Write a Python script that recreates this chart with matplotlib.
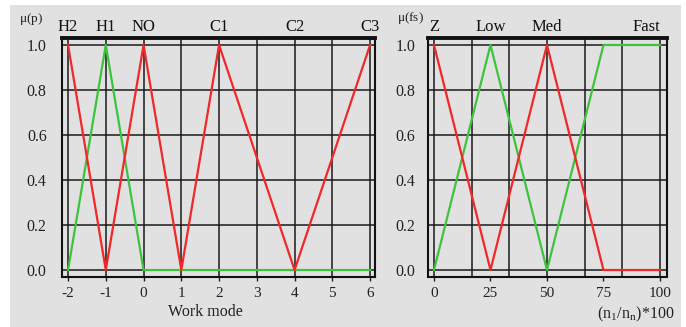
import numpy as np
from matplotlib import pyplot as plt
from matplotlib.patches import Rectangle

plt.rcParams['font.family'] = ['Liberation Serif', 'DejaVu Serif']
plt.rcParams['mathtext.fontset'] = 'stix'

# left panel: work mode membership
mode_labels = ['H2', 'H1', 'NO', 'C1', 'C2', 'C3']
mode_label_x = [-2, -1, 0, 2, 4, 6]
mode_ticks = [-2, -1, 0, 1, 2, 3, 4, 5, 6]
mode_red_x = [-2, -1, 0, 1, 2, 4, 6]
mode_red_y = [1, 0, 1, 0, 1, 0, 1]
mode_green_x = [-2, -1, 0, 6]
mode_green_y = [0, 1, 0, 0]

# right panel: speed membership
speed_labels = ['Z', 'Low', 'Med', 'Fast']
speed_label_x = [0, 25, 50, 100]
speed_ticks = [0, 25, 50, 75, 100]
speed_grid = [0, 100 / 6, 200 / 6, 50, 400 / 6, 500 / 6, 100]
speed_red_x = [0, 25, 50, 75, 100]
speed_red_y = [1, 0, 1, 0, 0]
speed_green_x = [0, 25, 50, 75, 100]
speed_green_y = [0, 1, 0, 1, 1]

y_ticks = [0.0, 0.2, 0.4, 0.6, 0.8, 1.0]

RED = '#f02828'
GREEN = '#3cc43c'
BG = '#e1e1e1'

fig = plt.figure(figsize=(6.86, 3.27), dpi=100)
fig.patches.append(Rectangle((10 / 686, 0), 671 / 686, 322 / 327, transform=fig.transFigure,
                             facecolor=BG, edgecolor='none', zorder=-10))

ax1 = fig.add_axes([62 / 686, 50 / 327, 313 / 686, 239 / 327])
ax2 = fig.add_axes([428 / 686, 50 / 327, 239 / 686, 239 / 327])


def style_axes(ax, grid_x, xticks, xlim, ypad):
    ax.set_facecolor(BG)
    ax.set_xlim(*xlim)
    ax.set_ylim(-0.031, 1.031)
    for gx in grid_x:
        ax.axvline(gx, color='#1a1a1a', lw=1.1, zorder=1)
    for gy in y_ticks:
        ax.axhline(gy, color='#1a1a1a', lw=1.1, zorder=1)
    ax.set_xticks(xticks)
    ax.set_xticklabels([str(t) for t in xticks])
    ax.set_yticks(y_ticks)
    ax.set_yticklabels(['%.1f' % t for t in y_ticks])
    ax.tick_params(axis='x', direction='out', length=3, width=1, labelsize=11, pad=4, colors='#222222')
    ax.tick_params(axis='y', length=0, labelsize=11.5, pad=ypad, colors='#222222')
    for side in ['left', 'right', 'bottom']:
        ax.spines[side].set_linewidth(1.5)
        ax.spines[side].set_color('#111111')
    ax.spines['top'].set_linewidth(2.8)
    ax.spines['top'].set_color('#111111')


style_axes(ax1, mode_ticks, mode_ticks, (-2.16, 6.13), 11)
ax1.plot(mode_green_x, mode_green_y, color=GREEN, lw=1.6, zorder=3)
ax1.plot(mode_red_x, mode_red_y, color=RED, lw=1.6, zorder=4)
for lab, x in zip(mode_labels, mode_label_x):
    ax1.text(x, 1.012, lab, transform=ax1.get_xaxis_transform(), ha='center', va='bottom',
             fontsize=12, color='#111111')
ax1.text(-0.1, 1.045, r'$\mathregular{\mu}$(p)', transform=ax1.transAxes, ha='center', va='bottom',
         fontsize=9.5, color='#222222')
ax1.set_xlabel('Work mode', fontsize=11.5, color='#222222', labelpad=2)
ax1.xaxis.set_label_coords(0.457, -0.115)

style_axes(ax2, speed_grid, speed_ticks, (-2.65, 103.1), 9)
ax2.plot(speed_green_x, speed_green_y, color=GREEN, lw=1.6, zorder=3)
ax2.plot(speed_red_x, speed_red_y, color=RED, lw=1.6, zorder=4)
for lab, x in zip(speed_labels, speed_label_x):
    ha = 'right' if lab == 'Fast' else 'center'
    ax2.text(x, 1.012, lab, transform=ax2.get_xaxis_transform(), ha=ha, va='bottom',
             fontsize=12, color='#111111')
ax2.text(-0.075, 1.05, r'$\mathregular{\mu}$(fs)', transform=ax2.transAxes, ha='center', va='bottom',
         fontsize=9.5, color='#222222')
ax2.set_xlabel(r'(n$_\mathregular{1}$/n$_\mathregular{n}$)*100', fontsize=11.5, color='#222222')
ax2.xaxis.set_label_coords(0.87, -0.115)

fig.savefig('out.png', dpi=100)
